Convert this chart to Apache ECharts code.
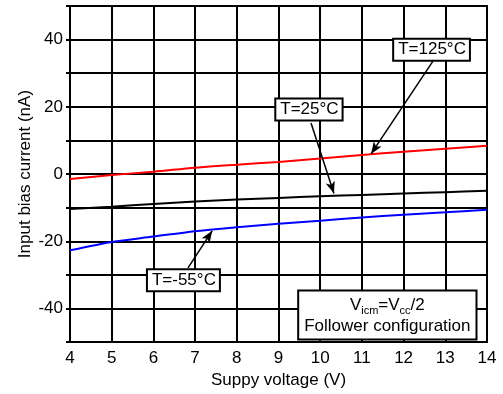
<!DOCTYPE html>
<html><head><meta charset="utf-8">
<script src="https://cdn.jsdelivr.net/npm/echarts@6/dist/echarts.min.js"></script>
<style>html,body{margin:0;padding:0;background:#fff}#c{width:503px;height:394px}</style>
</head><body><div id="c"></div>
<script>
const supplyVoltage = [4, 5, 6, 7, 8, 9, 10, 11, 12, 13, 14];
const ib125 = [-1.5, -0.3, 0.7, 1.9, 2.8, 3.6, 4.6, 5.7, 6.6, 7.5, 8.4];
const ib25 = [-10.4, -9.7, -8.9, -8.2, -7.6, -7.1, -6.6, -6.2, -5.8, -5.4, -5.0];
const ibm55 = [-22.7, -20.2, -18.6, -17.0, -15.8, -14.8, -13.9, -12.9, -12.1, -11.4, -10.6];
const xTicks = [4, 5, 6, 7, 8, 9, 10, 11, 12, 13, 14];
const yTickLabels = [-40, -20, 0, 20, 40];
const seriesNames = ['T=125°C', 'T=25°C', 'T=-55°C'];

const FONT = 'Liberation Sans, Arial, sans-serif';
const pair = (xs, ys) => xs.map((x, i) => [x, ys[i]]);

function arrow(from, to) {
  return [{ coord: from }, { coord: to }];
}
function tag(text, at) {
  return {
    coord: at, value: text,
    label: {
      show: true, position: 'inside', formatter: text,
      color: '#000', fontFamily: FONT, fontSize: 17,
      backgroundColor: '#fff', borderColor: '#000', borderWidth: 2,
      padding: [2, 3, 1, 4]
    }
  };
}
function mk(name, data, color, tagPos, arrFrom, arrTo) {
  return {
    name, type: 'line', data, smooth: 0.3, showSymbol: false, silent: true,
    lineStyle: { color, width: 2 }, itemStyle: { color }, z: 3,
    markLine: {
      silent: true, symbol: ['none', 'arrow'], symbolSize: [7, 12],
      lineStyle: { color: '#000', width: 1.5, type: 'solid' },
      label: { show: false }, z: 4,
      data: [arrow(arrFrom, arrTo)]
    },
    markPoint: {
      silent: true, symbol: 'rect', symbolSize: 0, z: 5,
      data: [tag(name, tagPos)]
    }
  };
}

const chart = echarts.init(document.getElementById('c'), null, { renderer: 'canvas' });
chart.setOption({
  animation: false,
  backgroundColor: '#fff',
  grid: { left: 70, right: 16, top: 6, bottom: 49, show: true, borderColor: '#000', borderWidth: 2, backgroundColor: 'transparent' },
  xAxis: {
    type: 'value', min: xTicks[0], max: xTicks[xTicks.length - 1], interval: 1,
    name: 'Suppy voltage (V)', nameLocation: 'middle', nameGap: 27,
    nameTextStyle: { color: '#000', fontFamily: FONT, fontSize: 17 },
    axisLine: { show: true, lineStyle: { color: '#000', width: 2 } },
    axisTick: { show: false },
    axisLabel: { color: '#000', fontFamily: FONT, fontSize: 17, margin: 8 },
    splitLine: { show: true, lineStyle: { color: '#000', width: 2 } }
  },
  yAxis: {
    type: 'value', min: -50, max: 50, interval: 10,
    name: 'Input bias current (nA)', nameLocation: 'middle', nameGap: 36, nameMoveOverlap: false,
    nameTextStyle: { color: '#000', fontFamily: FONT, fontSize: 17 },
    axisLine: { show: true, lineStyle: { color: '#000', width: 2 } },
    axisTick: { show: true, length: 4, lineStyle: { color: '#000', width: 2 } },
    axisLabel: {
      color: '#000', fontFamily: FONT, fontSize: 17, margin: 7,
      formatter: v => yTickLabels.includes(v) ? String(v) : ''
    },
    splitLine: { show: true, lineStyle: { color: '#000', width: 2 } }
  },
  series: [
    mk(seriesNames[0], pair(supplyVoltage, ib125), '#ff0000', [12.67, 37.0], [12.70, 33.5], [11.22, 6.0]),
    mk(seriesNames[1], pair(supplyVoltage, ib25), '#000000', [9.73, 19.2], [9.78, 15.2], [10.33, -5.8]),
    mk(seriesNames[2], pair(supplyVoltage, ibm55), '#0000ff', [6.72, -31.6], [6.83, -27.9], [7.41, -16.9]),
    {
      type: 'scatter', data: [], silent: true,
      markPoint: {
        silent: true, symbol: 'rect', symbolSize: 0, z: 5,
        data: [{
          coord: [11.61, -41.9], value: 'cond',
          label: {
            show: true, position: 'inside', align: 'center',
            formatter: 'V{sub|icm}=V{sub|cc}/2\nFollower configuration',
            color: '#000', fontFamily: FONT, fontSize: 17, lineHeight: 21,
            backgroundColor: '#fff', borderColor: '#000', borderWidth: 2,
            padding: [3, 5, 2, 5],
            rich: { sub: { fontFamily: FONT, fontSize: 11, color: '#000', lineHeight: 21, padding: [12, 0, 0, 0] } }
          }
        }]
      }
    }
  ]
});
</script></body></html>
